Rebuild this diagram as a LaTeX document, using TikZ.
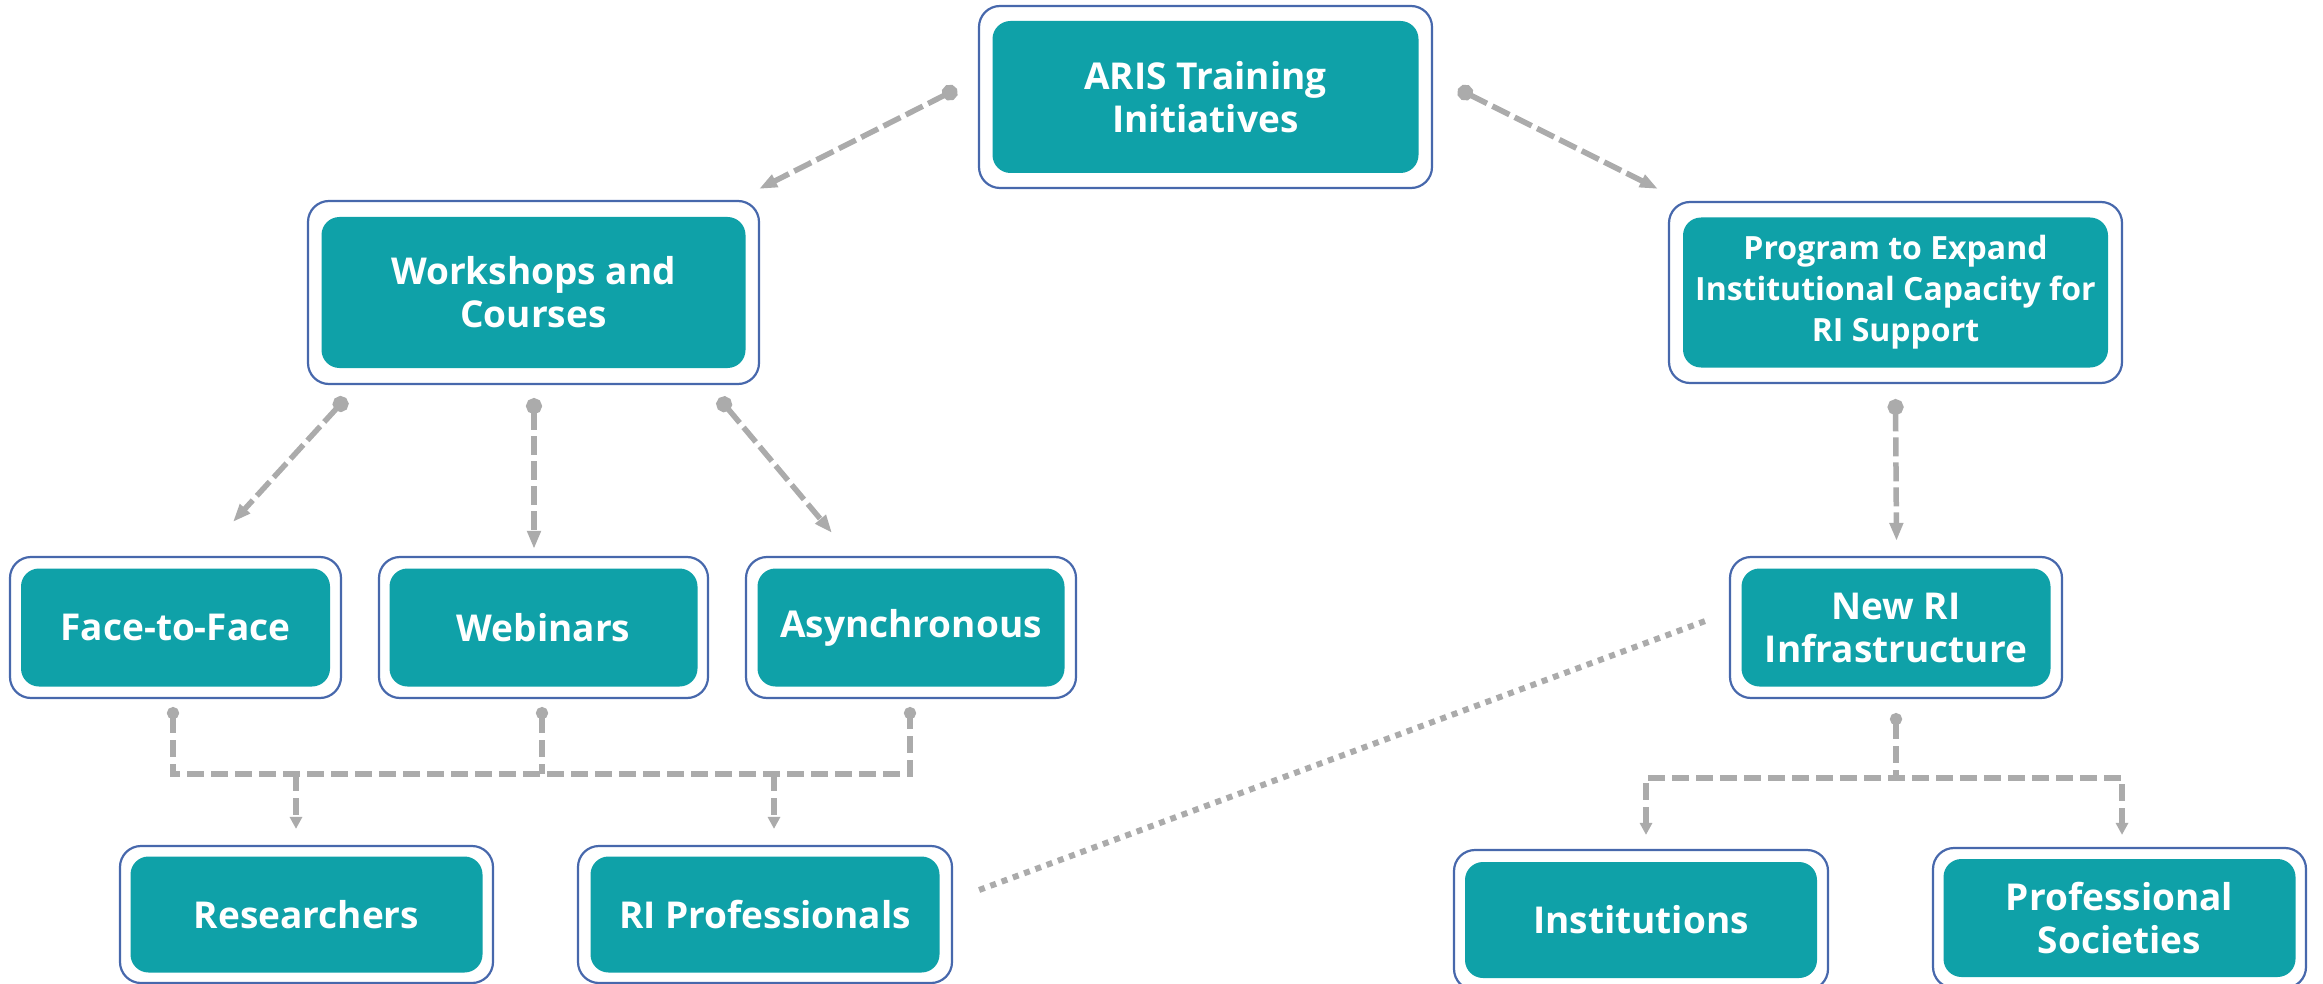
\documentclass[tikz,border=0pt]{standalone}
\usepackage{fontspec}
\setmainfont{Open Sans}
\usetikzlibrary{arrows.meta}

\definecolor{tealfill}{HTML}{0FA1A8}
\definecolor{frameblue}{HTML}{4768AC}
\definecolor{linkgray}{HTML}{ABABAB}

% a teal box sitting inside a white, blue-edged frame
% #1 extra options for the text, #2 name, #3/#4 centre, #5/#6 frame size, #7/#8 core size, #9 text
\newcommand\layeredbox[9]{%
  \node[frame, minimum width=#5pt, minimum height=#6pt] (#2-frame) at (#3,#4) {};
  \node[core, minimum width=#7pt, minimum height=#8pt, #1] (#2) at (#3,#4) {#9};
}

\tikzset{
  frame/.style={draw=frameblue, line width=2.2pt, fill=white, rounded corners=21pt, inner sep=0pt},
  core/.style={fill=tealfill, rounded corners=18pt, text=white, inner sep=0pt, align=center,
    font=\bfseries\fontsize{37}{43}\selectfont},
  smalltext/.style={font=\bfseries\fontsize{32}{41}\selectfont},
  link/.style={draw=linkgray, line width=5.5pt, dash pattern=on 19pt off 6pt,
    {Circle[length=16pt]}-{Triangle[length=18pt,width=13pt]}},
  buslink/.style={draw=linkgray, line width=5.5pt, dash pattern=on 17pt off 7pt},
  busdot/.style={{Circle[length=12pt]}-{Circle[length=12pt]}},
  busstart/.style={{Circle[length=12pt]}-},
  busend/.style={-{Triangle[length=12pt,width=12pt]}},
  bustwoends/.style={{Triangle[length=12pt,width=12pt]}-{Triangle[length=12pt,width=12pt]}},
  dotlink/.style={draw=linkgray, line width=6pt, dash pattern=on 6pt off 6pt}
}

\begin{document}
\begin{tikzpicture}[x=1pt,y=-1pt]
\useasboundingbox (0,0) rectangle (2323,984);

% boxes
\layeredbox{}{aris}{1205.5}{97}{453}{182}{426}{152}{ARIS Training\\Initiatives}
\layeredbox{}{ws}{533.5}{292.5}{451}{183}{424}{151}{Workshops and\\Courses}
\layeredbox{smalltext}{prog}{1895.5}{292.5}{453}{181}{425}{150}{Program to Expand\\Institutional Capacity for\\RI Support}
\layeredbox{}{f2f}{175.5}{627.5}{331}{141}{309}{118}{Face-to-Face}
\layeredbox{}{web}{543.5}{627.5}{329}{141}{308}{118}{Webinars}
\layeredbox{}{async}{911}{627.5}{330}{141}{307}{118}{Asynchronous}
\layeredbox{}{newri}{1896}{627.5}{332}{141}{309}{118}{New RI\\Infrastructure}
\layeredbox{}{res}{306.5}{914.5}{373}{137}{352}{116}{Researchers}
\layeredbox{}{rip}{765}{914.5}{374}{137}{349}{116}{RI Professionals}
\layeredbox{}{inst}{1641}{920}{374}{140}{352}{116}{Institutions}
\layeredbox{}{soc}{2119.5}{918}{373}{140}{352}{118}{Professional\\Societies}

% top level links
\draw[link] ([shift={(-21,-8)}]aris-frame.west) -- ([shift={(-1,-11)}]ws-frame.north east);
\draw[link] ([shift={(25,-8)}]aris-frame.east) -- ([shift={(-10,-12)}]prog-frame.north west);

% workshops to delivery formats
\draw[link] ([shift={(-187.5,13)}]ws-frame.south) -- ([shift={(57.5,-34)}]f2f-frame.north);
\draw[link] ([shift={(0.5,13)}]ws-frame.south) -- ([shift={(-9.5,-7)}]web-frame.north);
\draw[link] ([shift={(185.5,13)}]ws-frame.south) -- ([shift={(-79,-23)}]async-frame.north);

% program to new infrastructure
\draw[link] ([shift={(0,15)}]prog-frame.south) -- ([shift={(0.5,-15)}]newri-frame.north);

% shared bus from the formats to the audiences
\coordinate (f2fdot) at ([shift={(-2.5,8)}]f2f-frame.south);
\coordinate (webdot) at ([shift={(-1.5,8)}]web-frame.south);
\coordinate (asyncdot) at ([shift={(-1,8)}]async-frame.south);
\coordinate (resin) at ([shift={(-10.5,-16)}]res-frame.north);
\coordinate (ripin) at ([shift={(9,-16)}]rip-frame.north);
\coordinate (rowbus) at (0,774);
\draw[buslink, busdot] (f2fdot) -- (f2fdot |- rowbus) -- (asyncdot |- rowbus) -- (asyncdot);
\draw[buslink, busstart] (webdot) -- (webdot |- rowbus);
\draw[buslink, busend] (resin |- rowbus) -- (resin);
\draw[buslink, busend] (ripin |- rowbus) -- (ripin);

% bus from the new infrastructure to institutions and societies
\coordinate (newridot) at ([shift={(0,14)}]newri-frame.south);
\coordinate (instin) at ([shift={(5,-14)}]inst-frame.north);
\coordinate (socin) at ([shift={(2.5,-12)}]soc-frame.north);
\coordinate (infrabus) at (0,778);
\draw[buslink, busstart] (newridot) -- (newridot |- infrabus);
\draw[buslink, bustwoends] (instin) -- (instin |- infrabus) -- (socin |- infrabus) -- (socin);

% dotted link between RI professionals and the new infrastructure
\draw[dotlink] ([shift={(26,-24.5)}]rip-frame.east) -- ([shift={(-21,-7.5)}]newri-frame.west);
\end{tikzpicture}
\end{document}
